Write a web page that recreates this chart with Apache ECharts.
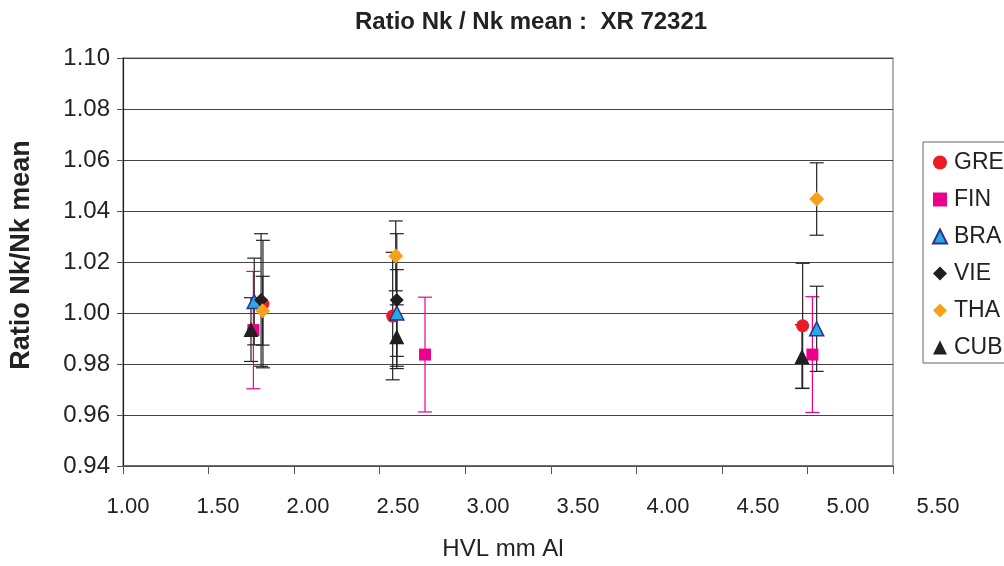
<!DOCTYPE html>
<html>
<head>
<meta charset="utf-8">
<script src="https://cdn.jsdelivr.net/npm/echarts@6/dist/echarts.min.js"></script>
<style>
html,body{margin:0;padding:0;background:#fff;}
#chart{width:1004px;height:566px;}
</style>
</head>
<body>
<div id="chart"></div>
<script>
// ---- data ----
const countries = ['GRE', 'FIN', 'BRA', 'VIE', 'THA', 'CUB'];

const hvlGRE = [1.818, 2.576, 4.972];
const ratioGRE = [1.0035, 0.9988, 0.995];
const errGRE = [0.025, 0.025, 0.0245];

const hvlFIN = [1.762, 2.765, 5.029];
const ratioFIN = [0.9933, 0.9837, 0.9837];
const errFIN = [0.023, 0.0225, 0.0227];

const hvlBRA = [1.767, 2.600, 5.054];
const ratioBRA = [1.0045, 1.0000, 0.9938];
const errBRA = [0.017, 0.017, 0.0167];

const hvlVIE = [1.807, 2.600];
const ratioVIE = [1.0051, 1.0051];
const errVIE = [0.026, 0.026];

const hvlTHA = [1.816, 2.594, 5.054];
const ratioTHA = [1.0009, 1.0224, 1.0447];
const errTHA = [0.0135, 0.0137, 0.0142];

const hvlCUB = [1.748, 2.600, 4.968];
const ratioCUB = [0.9935, 0.9907, 0.9829];
const errCUB = [0.0125, 0.0125, 0.0125];

const xTicks = [1.00, 1.50, 2.00, 2.50, 3.00, 3.50, 4.00, 4.50, 5.00, 5.50];
const yTicks = [0.94, 0.96, 0.98, 1.00, 1.02, 1.04, 1.06, 1.08, 1.10];

// ---- styles ----
const styles = {
  GRE: {symbol: 'circle', size: 13, color: '#ed1c24', border: '#ed1c24', bw: 0, err: '#222'},
  FIN: {symbol: 'rect', size: 12, color: '#ec008c', border: '#ec008c', bw: 0, err: '#ec008c'},
  BRA: {symbol: 'triangle', size: 14, color: '#27aae1', border: '#2e3192', bw: 1.5, err: '#222'},
  VIE: {symbol: 'diamond', size: 14, color: '#231f20', border: '#231f20', bw: 0, err: '#222'},
  THA: {symbol: 'diamond', size: 15, color: '#f7a11a', border: '#f7a11a', bw: 0, err: '#222'},
  CUB: {symbol: 'triangle', size: 15, color: '#231f20', border: '#231f20', bw: 0, err: '#222'}
};

const dataSets = {
  GRE: [hvlGRE, ratioGRE, errGRE],
  FIN: [hvlFIN, ratioFIN, errFIN],
  BRA: [hvlBRA, ratioBRA, errBRA],
  VIE: [hvlVIE, ratioVIE, errVIE],
  THA: [hvlTHA, ratioTHA, errTHA],
  CUB: [hvlCUB, ratioCUB, errCUB]
};

const series = [];
// error bars first
countries.forEach(function (c) {
  const d = dataSets[c];
  const rows = d[0].map(function (x, i) { return [x, d[1][i] - d[2][i], d[1][i] + d[2][i]]; });
  const col = styles[c].err;
  series.push({
    type: 'custom',
    name: c + ' err',
    z: 2,
    silent: true,
    xAxisIndex: 0,
    yAxisIndex: 0,
    data: rows,
    encode: {x: 0, y: [1, 2]},
    renderItem: function (params, api) {
      const x = api.value(0);
      const lo = api.coord([x, api.value(1)]);
      const hi = api.coord([x, api.value(2)]);
      const hw = 7;
      const st = {stroke: col, lineWidth: 1.2};
      return {
        type: 'group',
        children: [
          {type: 'line', shape: {x1: lo[0], y1: lo[1], x2: hi[0], y2: hi[1]}, style: st},
          {type: 'line', shape: {x1: lo[0] - hw, y1: lo[1], x2: lo[0] + hw, y2: lo[1]}, style: st},
          {type: 'line', shape: {x1: hi[0] - hw, y1: hi[1], x2: hi[0] + hw, y2: hi[1]}, style: st}
        ]
      };
    }
  });
});
countries.forEach(function (c, k) {
  const d = dataSets[c];
  const s = styles[c];
  series.push({
    type: 'scatter',
    name: c,
    z: 10 + k,
    xAxisIndex: 0,
    yAxisIndex: 0,
    symbol: s.symbol,
    symbolSize: s.size,
    itemStyle: {color: s.color, borderColor: s.border, borderWidth: s.bw, opacity: 1},
    data: d[0].map(function (x, i) { return [x, d[1][i]]; })
  });
});

const fmt2 = function (v) { return v.toFixed(2); };

const chart = echarts.init(document.getElementById('chart'), null, {renderer: 'canvas'});
chart.setOption({
  animation: false,
  backgroundColor: '#ffffff',
  title: {
    text: 'Ratio Nk / Nk mean :  XR 72321',
    left: 350,
    top: 5,
    textStyle: {fontFamily: 'Liberation Sans', fontWeight: 'bold', fontSize: 24, color: '#222'}
  },
  grid: [
    {left: 123, right: 111, top: 58, bottom: 100, show: true, borderColor: '#999', borderWidth: 1.5, containLabel: false},
    // label band of the horizontal axis (labels in the source are spread wider than the ticks)
    {left: 128, right: 66, top: 58, bottom: 100, show: false, containLabel: false}
  ],
  legend: {
    orient: 'vertical',
    left: 923,
    top: 142,
    data: countries,
    itemWidth: 14,
    itemHeight: 14,
    itemGap: 14,
    padding: [9, 10, 4, 9],
    borderColor: '#666',
    borderWidth: 1,
    textStyle: {fontFamily: 'Liberation Sans', fontSize: 23, color: '#222', padding: [0, 0, 0, 2]}
  },
  xAxis: [
    {
      gridIndex: 0,
      type: 'value',
      min: xTicks[0],
      max: xTicks[xTicks.length - 1],
      interval: 0.5,
      axisLine: {lineStyle: {color: '#555', width: 1.5}},
      axisTick: {show: true, length: 8, inside: false, lineStyle: {color: '#555'}},
      axisLabel: {show: false},
      splitLine: {show: false}
    },
    {
      gridIndex: 1,
      type: 'value',
      min: xTicks[0],
      max: xTicks[xTicks.length - 1],
      interval: 0.5,
      name: 'HVL mm Al',
      nameLocation: 'middle',
      nameGap: 84,
      nameTextStyle: {fontFamily: 'Liberation Sans', fontSize: 24, color: '#222', padding: [0, 60, 0, 0]},
      axisLine: {show: false},
      axisTick: {show: false},
      axisLabel: {fontFamily: 'Liberation Sans', fontSize: 22, color: '#222', margin: 43, formatter: fmt2},
      splitLine: {show: false}
    }
  ],
  yAxis: [
    {
      gridIndex: 0,
      type: 'value',
      min: yTicks[0],
      max: yTicks[yTicks.length - 1],
      interval: 0.02,
      name: 'Ratio Nk/Nk mean',
      nameLocation: 'middle',
      nameGap: 88,
      nameTextStyle: {fontFamily: 'Liberation Sans', fontWeight: 'bold', fontSize: 27, color: '#222', padding: [0, 0, 0, 14]},
      axisLine: {show: true, lineStyle: {color: '#222', width: 1.2}},
      axisTick: {show: true, length: 6, lineStyle: {color: '#555'}},
      axisLabel: {fontFamily: 'Liberation Sans', fontSize: 24, color: '#222', margin: 13, formatter: fmt2},
      splitLine: {show: true, lineStyle: {color: '#444', width: 1.2}}
    },
    {
      gridIndex: 1,
      type: 'value',
      min: yTicks[0],
      max: yTicks[yTicks.length - 1],
      interval: 0.02,
      show: false
    }
  ],
  series: series
});
</script>
</body>
</html>
